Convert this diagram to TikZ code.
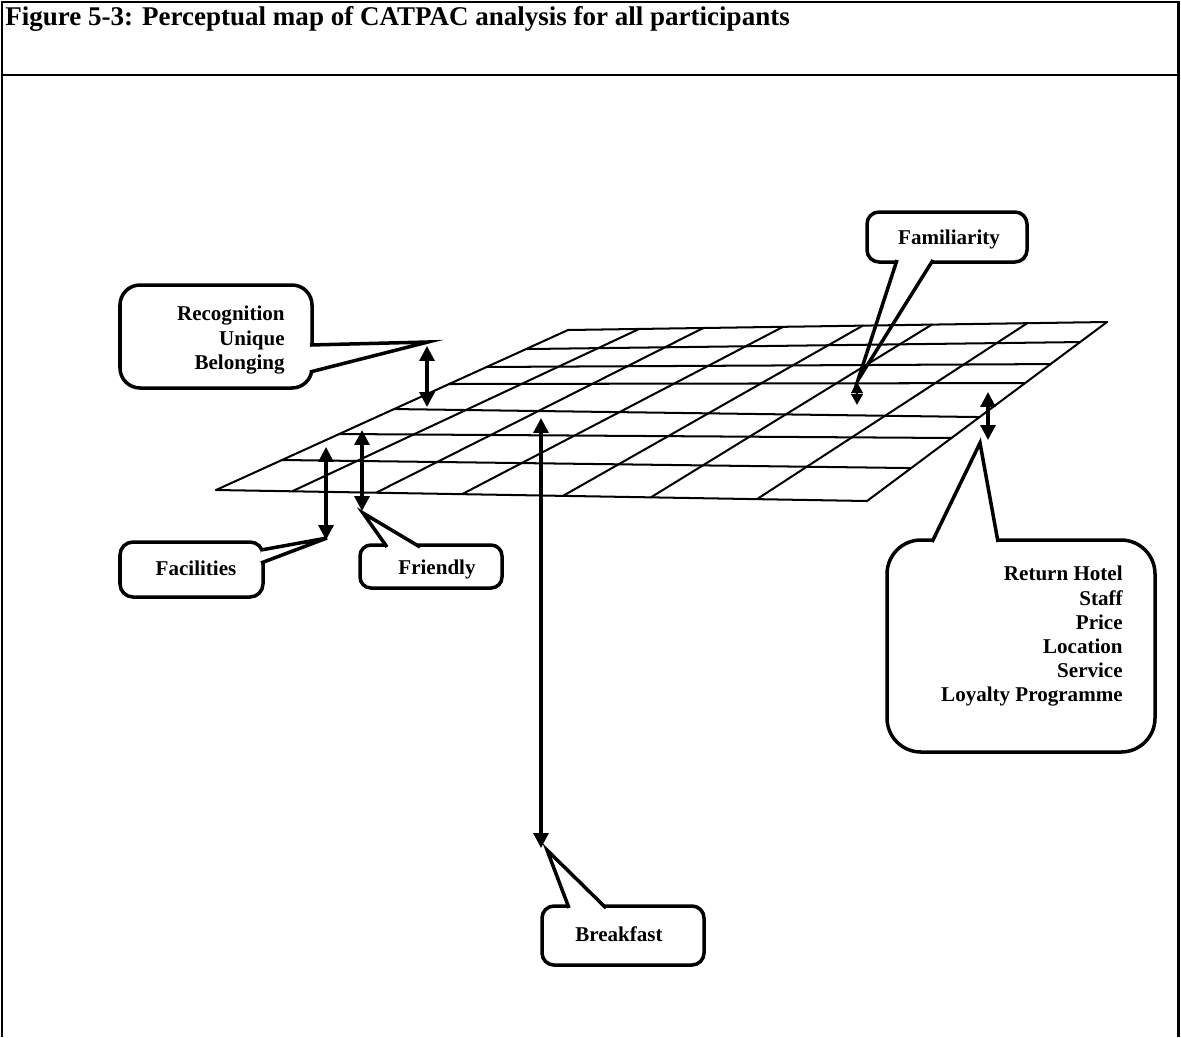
\documentclass[tikz,border=0pt]{standalone}
\usepackage{fontspec}
\setmainfont{Liberation Serif}
\usetikzlibrary{arrows.meta,calc}
\newdimen\px \px=0.57pt
% wedge of a callout: base point, tip, base point, shift into the box
\newcommand{\callwedge}[4]{%
  \fill[white] ($#1+#4$) -- #2 -- ($#3+#4$) -- cycle;
  \draw[wedgeline] ($#1+#4$) -- #2 -- ($#3+#4$);}

\begin{document}
\begin{tikzpicture}[
    x=0.57pt, y=-0.57pt,
    frame/.style={line width=1.7pt},
    gridline/.style={line width=1.15pt, line cap=round},
    callbox/.style={draw, line width=2pt, inner sep=0pt},
    wedgeline/.style={line width=2pt, line join=miter},
    lbl/.style={font=\bfseries\fontsize{12}{13.7}\selectfont, inner sep=0pt},
    dbl/.style={{Triangle[length=8.5pt,width=8.5pt]}-{Triangle[length=8.5pt,width=8.5pt]},
                line width=1.8pt}
]
\useasboundingbox (0,0) rectangle (1181,1037);
\draw[frame] (2,1037) -- (2,2) -- (1178,2) -- (1178,1037);
\draw[frame] (2,75) -- (1178,75);
\node[lbl, font=\bfseries\fontsize{15.4}{17}\selectfont, anchor=base west] (title) at (5,25)
    {Figure 5-3: Perceptual map of CATPAC analysis for all participants};

% callouts
\node[callbox, rounded corners=20\px, minimum width=192\px, minimum height=103\px]
    (recogbox) at (216,336.5) {};
\callwedge{(312,345)}{(428,342)}{(312,372)}{(-2,0)}
\node[lbl, align=right, anchor=north east] (recog) at (285,306)
    {Recognition\\Unique\\Belonging};

\node[callbox, rounded corners=13\px, minimum width=143\px, minimum height=55\px]
    (facilbox) at (191.5,569.5) {};
\callwedge{(263,550)}{(327,538)}{(263,563)}{(-2,0)}
\node[lbl, anchor=base] (facil) at (196,575) {Facilities};

\node[callbox, rounded corners=11\px, minimum width=142\px, minimum height=43\px]
    (friendbox) at (431,566.5) {};
\callwedge{(387,545)}{(363,513)}{(420,545)}{(0,2)}
\node[lbl, anchor=base] (friend) at (437,574) {Friendly};

\node[callbox, rounded corners=12\px, minimum width=160\px, minimum height=50\px]
    (familbox) at (947,237) {};
\callwedge{(897,262)}{(858,380)}{(933,262)}{(0,-2)}
\node[lbl, anchor=base] (famil) at (949,244) {Familiarity};

\node[callbox, rounded corners=34\px, minimum width=268\px, minimum height=212\px]
    (retbox) at (1021,646) {};
\callwedge{(932,540)}{(980,443)}{(998,540)}{(0,2)}
\node[lbl, align=right, anchor=north east] (ret) at (1123,566)
    {Return Hotel\\Staff\\Price\\Location\\Service\\Loyalty Programme};

\node[callbox, rounded corners=12\px, minimum width=162\px, minimum height=59\px]
    (bfastbox) at (623,935.5) {};
\callwedge{(569,906)}{(547,850)}{(606,906)}{(0,2)}
\node[lbl, anchor=base] (bfast) at (619,941) {Breakfast};

% grid
\coordinate (bl) at (216,490);
\coordinate (br) at (867,501);
\coordinate (tl) at (568,330);
\coordinate (tr) at (1107,322);
\foreach \a/\b in {0/0, .1875/.184, .35/.352, .506/.469, .6625/.659, .769/.765, .881/.888, 1/1}
  \draw[gridline] ($(bl)!\a!(tl)$) -- ($(br)!\b!(tr)$);
\foreach \a/\b in {0/0, .117/.132, .246/.251, .378/.399, .533/.547, .668/.675, .831/.852, 1/1}
  \draw[gridline] ($(bl)!\a!(br)$) -- ($(tl)!\b!(tr)$);

% arrows
\foreach \n/\x/\ya/\yb in {recog/427/346/407, facil/326/447/540, friend/362/430/511,
                           bfast/541/418/848, ret/988/392/440}{
  \coordinate (\n-top) at (\x,\ya);
  \coordinate (\n-bot) at (\x,\yb);
  \draw[dbl] (\n-top) -- (\n-bot);
}
\coordinate (famil-top) at (857,382);
\coordinate (famil-bot) at (857,405);
\draw[dbl, line width=1.5pt, {Triangle[length=6.3pt,width=6.5pt]}-{Triangle[length=6.3pt,width=6.5pt]}]
    (famil-top) -- (famil-bot);
\end{tikzpicture}
\end{document}
